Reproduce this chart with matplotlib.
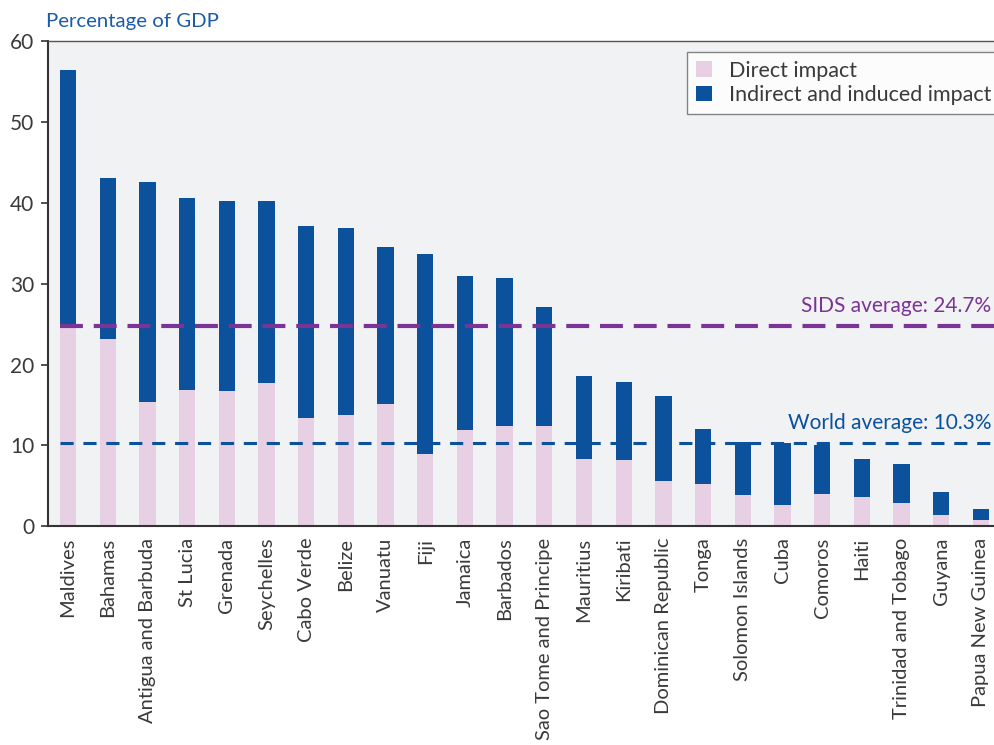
import numpy as np
import matplotlib.pyplot as plt
from matplotlib.patches import Patch

plt.rcParams['font.family'] = ['Lato', 'DejaVu Sans']

# travel & tourism contribution to GDP
countries = ['Maldives', 'Bahamas', 'Antigua and Barbuda', 'St Lucia', 'Grenada',
             'Seychelles', 'Cabo Verde', 'Belize', 'Vanuatu', 'Fiji', 'Jamaica',
             'Barbados', 'Sao Tome and Principe', 'Mauritius', 'Kiribati',
             'Dominican Republic', 'Tonga', 'Solomon Islands', 'Cuba', 'Comoros',
             'Haiti', 'Trinidad and Tobago', 'Guyana', 'Papua New Guinea']
direct = [25.0, 23.1, 15.35, 16.9, 16.7, 17.7, 13.35, 13.8, 15.1, 8.9, 11.9,
          12.4, 12.4, 8.35, 8.15, 5.6, 5.25, 3.86, 2.7, 4.07, 3.69, 2.93, 1.4, 0.76]
total = [56.3, 43.0, 42.5, 40.5, 40.15, 40.15, 37.05, 36.85, 34.5, 33.7, 30.9,
         30.65, 27.1, 18.6, 17.85, 16.07, 12.0, 10.47, 10.26, 10.1, 8.3, 7.76, 4.24, 2.12]
sids_avg = 24.7
world_avg = 10.3
yticks = [0, 10, 20, 30, 40, 50, 60]

pink = '#e7cfe4'
blue = '#0b519c'
purple = '#7a3495'
txt = '#3a3a3a'

direct = np.array(direct)
indirect = np.array(total) - direct
x = np.arange(len(countries))
w = 0.41

fig = plt.figure(figsize=(9.94, 7.45), dpi=100)
ax = fig.add_axes([0.0483, 0.2933, 0.9517, 0.6523])
ax.set_facecolor('#f1f2f4')

ax.bar(x, direct, w, color=pink, zorder=2)
ax.bar(x, indirect, w, bottom=direct, color=blue, zorder=2)

xr = [-w / 2, len(countries) + 1]
ax.plot(xr, [sids_avg, sids_avg], color=purple, lw=3.0, dashes=(5.5, 2.6), zorder=3)
ax.plot(xr, [world_avg, world_avg], color=blue, lw=2.2, dashes=(4.3, 3.2), zorder=3)
ax.text(0.997, 27.2, 'SIDS average: 24.7%', color=purple, fontsize=15,
        ha='right', va='center', transform=ax.get_yaxis_transform())
ax.text(0.997, 12.8, 'World average: 10.3%', color=blue, fontsize=15,
        ha='right', va='center', transform=ax.get_yaxis_transform())

ax.set_xlim(-0.504, 23.33)
ax.set_ylim(0, 60)
ax.set_yticks(yticks)
ax.set_xticks(x)
ax.set_xticklabels(countries, rotation=90, ha='center', va='top')
ax.tick_params(axis='x', length=0, pad=8, labelsize=14.5, labelcolor=txt)
ax.tick_params(axis='y', length=5, width=1.2, color='#333333', pad=5,
               labelsize=15, labelcolor=txt)

ax.spines['right'].set_visible(False)
ax.spines['top'].set_color('#555555')
ax.spines['top'].set_linewidth(1.0)
for s in ['left', 'bottom']:
    ax.spines[s].set_color('#333333')
    ax.spines[s].set_linewidth(1.5)

fig.text(46 / 994, 1 - 21 / 745, 'Percentage of GDP', color='#1a5ca8',
         fontsize=14.7, ha='left', va='center')

handles = [Patch(facecolor=pink, label='Direct impact'),
           Patch(facecolor=blue, label='Indirect and induced impact')]
leg = ax.legend(handles=handles, loc='upper right', bbox_to_anchor=(1.006, 0.930),
                bbox_transform=fig.transFigure, borderaxespad=0, fontsize=15.5,
                frameon=True, fancybox=False, handlelength=0.75, handleheight=0.75,
                handletextpad=0.8, labelspacing=0.2, borderpad=0.4,
                labelcolor=txt)
leg.get_frame().set_edgecolor('#666666')
leg.get_frame().set_linewidth(1.0)
leg.get_frame().set_facecolor('white')

fig.savefig('out.png', dpi=100)
